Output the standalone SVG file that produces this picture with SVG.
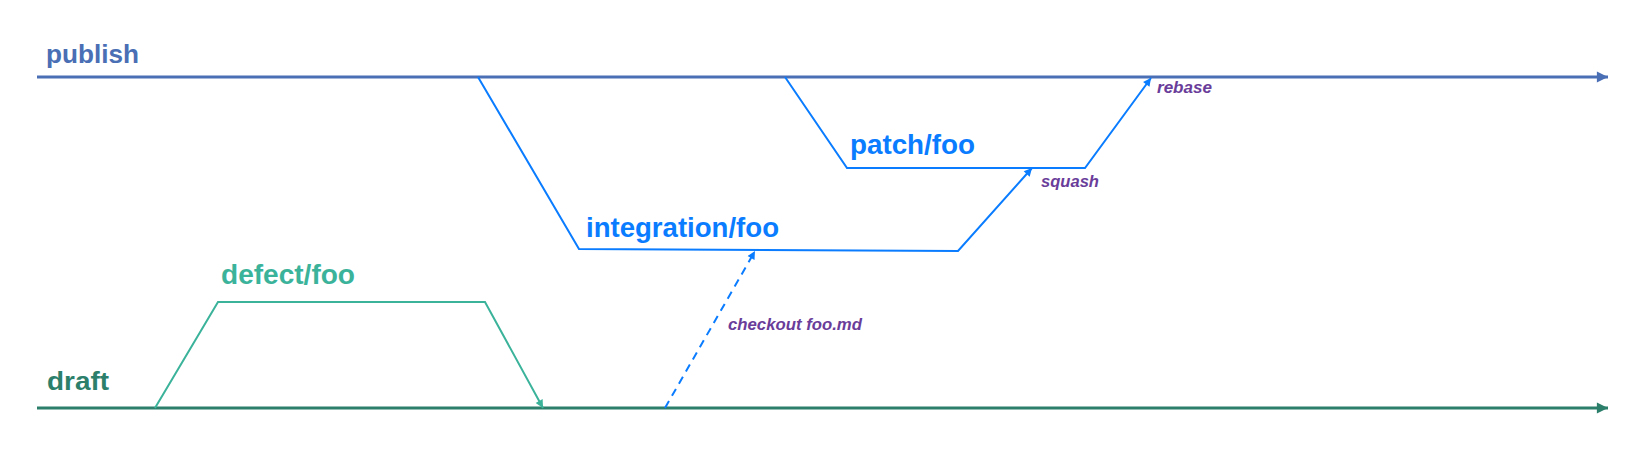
<svg xmlns="http://www.w3.org/2000/svg" width="1648" height="450" viewBox="0 0 1648 450">
<style>
.lbl{font-family:"Liberation Sans",Arial,sans-serif;font-weight:bold}
.main{font-size:26px}
.br{font-size:28px}
.note{font-family:"Liberation Sans",Arial,sans-serif;font-weight:bold;font-style:italic;font-size:16.5px;fill:#6a3d9a}
.ln{fill:none;stroke-linejoin:miter}
</style>
<defs>
<marker id="aPub" viewBox="0 0 10 10" refX="10" refY="5" markerWidth="4.6" markerHeight="3.7" markerUnits="strokeWidth" orient="auto"><path d="M0,0 L10,5 L0,10 z" fill="#4a6fb5"/></marker>
<marker id="aDraft" viewBox="0 0 10 10" refX="10" refY="5" markerWidth="4.6" markerHeight="3.7" markerUnits="strokeWidth" orient="auto"><path d="M0,0 L10,5 L0,10 z" fill="#2b7f6b"/></marker>
<marker id="aBlue" viewBox="0 0 10 10" refX="10" refY="5" markerWidth="5" markerHeight="4" markerUnits="strokeWidth" orient="auto"><path d="M0,0 L10,5 L0,10 z" fill="#0a7cff"/></marker>
<marker id="aGreen" viewBox="0 0 10 10" refX="10" refY="5" markerWidth="5" markerHeight="4" markerUnits="strokeWidth" orient="auto"><path d="M0,0 L10,5 L0,10 z" fill="#3bb39b"/></marker>
</defs>
<g id="connectors">
<line id="publish-line" x1="37" y1="77" x2="1608" y2="77" stroke="#4a6fb5" stroke-width="3" marker-end="url(#aPub)"/>
<line id="draft-line" x1="37" y1="408" x2="1608" y2="408" stroke="#2b7f6b" stroke-width="3" marker-end="url(#aDraft)"/>
<polyline id="defect-path" class="ln" points="155,408 218,302 485,302 543,408" stroke="#3bb39b" stroke-width="2" marker-end="url(#aGreen)"/>
<polyline id="integration-path" class="ln" points="478,77 579,249 958,251 1032,168" stroke="#0a7cff" stroke-width="2" marker-end="url(#aBlue)"/>
<polyline id="patch-path" class="ln" points="785,77 847,168 1085,168 1151,78" stroke="#0a7cff" stroke-width="2" marker-end="url(#aBlue)"/>
<line id="checkout-path" x1="665" y1="408" x2="755" y2="251" stroke="#0a7cff" stroke-width="2" stroke-dasharray="8,6" marker-end="url(#aBlue)"/>
</g>
<g id="publish"><text class="lbl main" x="46" y="63" fill="#4a6fb5" textLength="93" lengthAdjust="spacingAndGlyphs">publish</text></g>
<g id="draft"><text class="lbl main" x="47" y="390" fill="#2b7f6b" textLength="62" lengthAdjust="spacingAndGlyphs">draft</text></g>
<g id="defect-foo"><text class="lbl br" x="221" y="284" fill="#3bb39b" textLength="134" lengthAdjust="spacingAndGlyphs">defect/foo</text></g>
<g id="integration-foo"><text class="lbl br" x="586" y="237" fill="#0a7cff" textLength="193" lengthAdjust="spacingAndGlyphs">integration/foo</text></g>
<g id="patch-foo"><text class="lbl br" x="850" y="154" fill="#0a7cff" textLength="125" lengthAdjust="spacingAndGlyphs">patch/foo</text></g>
<g id="labels">
<text class="note" x="728" y="330" textLength="134" lengthAdjust="spacingAndGlyphs">checkout foo.md</text>
<text class="note" x="1041" y="187" textLength="58" lengthAdjust="spacingAndGlyphs">squash</text>
<text class="note" x="1157" y="93" textLength="55" lengthAdjust="spacingAndGlyphs">rebase</text>
</g>
</svg>
